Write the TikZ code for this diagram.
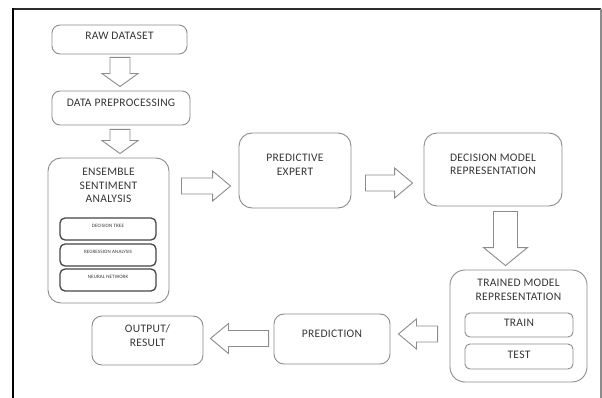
\documentclass[tikz,border=0pt]{standalone}
\usepackage{fontspec}
\setmainfont{Carlito}[LetterSpace=2.5]
\usetikzlibrary{calc}

\definecolor{boxgray}{HTML}{8C8C8C}
\definecolor{innergray}{HTML}{454545}
\definecolor{txtgray}{HTML}{363636}

% vertical block arrow: from anchor, to anchor, x centre, start gap, end gap, shaft half, head half, head length
\newcommand\vblk[8]{%
  \draw[blk] let \p1=(#1), \p2=(#2), \p3=(#3,0) in
    (\x3-#6,\y1+#4) -- (\x3+#6,\y1+#4) -- (\x3+#6,\y2+#5+#8) -- (\x3+#7,\y2+#5+#8)
    -- (\x3,\y2+#5) -- (\x3-#7,\y2+#5+#8) -- (\x3-#6,\y2+#5+#8) -- cycle;}
% horizontal block arrow: from anchor, to anchor, y centre, start gap, end gap, shaft half, head half, signed head length
\newcommand\hblk[8]{%
  \draw[blk] let \p1=(#1), \p2=(#2), \p3=(0,#3) in
    (\x1+#4,\y3+#6) -- (\x2+#5+#8,\y3+#6) -- (\x2+#5+#8,\y3+#7) -- (\x2+#5,\y3)
    -- (\x2+#5+#8,\y3-#7) -- (\x2+#5+#8,\y3-#6) -- (\x1+#4,\y3-#6) -- cycle;}

\begin{document}
\begin{tikzpicture}[x=1pt,y=-1pt,
  box/.style={draw=boxgray, line width=0.9pt, rounded corners=8pt, fill=white, inner sep=0pt},
  bigbox/.style={box, rounded corners=13pt},
  inbox/.style={draw=innergray, line width=1.3pt, rounded corners=5pt, inner sep=0pt},
  txt/.style={font=\fontsize{11.5}{13.5}\selectfont, text=txtgray, align=center, inner sep=0pt},
  tiny/.style={font=\fontsize{5}{6}\selectfont, text=txtgray, inner sep=0pt},
  blk/.style={draw=boxgray, line width=0.9pt, fill=white, line join=miter}]

\useasboundingbox (0,0) rectangle (602,398);
\fill[white] (0,0) rectangle (602,398);

% outer frame
\draw[gray!35!black, line width=1.8pt] (13,9) -- (601,9);
\draw[boxgray, line width=1.5pt] (601,9) -- (601,398);
\draw[black, line width=2pt] (13,8.1) -- (13,398);

% left column
\node[box, minimum width=135pt, minimum height=29pt] (raw) at (119.5,39.5) {};
\node[txt] (rawt) at ([yshift=3.5pt]raw.center) {RAW DATASET};

\node[box, minimum width=138pt, minimum height=34pt] (prep) at (121,108) {};
\node[txt] (prept) at ([yshift=5pt]prep.center) {DATA PREPROCESSING};

\node[bigbox, minimum width=121pt, minimum height=145pt] (ens) at (108.5,230.5) {};
\node[txt] (enst) at (108.5,185.5) {ENSEMBLE\\SENTIMENT\\ANALYSIS};
\node[inbox, minimum width=96pt, minimum height=22pt] (dt) at (108,229) {};
\node[tiny] (dtt) at ([yshift=3pt]dt.center) {DECISION TREE};
\node[inbox, minimum width=96pt, minimum height=22pt] (reg) at (108,255) {};
\node[tiny] (regt) at ([yshift=3pt]reg.center) {REGRESSION ANALYSIS};
\node[inbox, minimum width=96pt, minimum height=22pt] (nn) at (108,280) {};
\node[tiny] (nnt) at ([yshift=3pt]nn.center) {NEURAL NETWORK};

% upper row
\node[bigbox, minimum width=112pt, minimum height=75pt] (pe) at (295,170.5) {};
\node[txt] (pet) at (295,165) {PREDICTIVE\\EXPERT};

\node[bigbox, minimum width=138pt, minimum height=73pt] (dmr) at (493,169.5) {};
\node[txt] (dmrt) at (493,164.5) {DECISION MODEL\\REPRESENTATION};

% lower row
\node[bigbox, rounded corners=15pt, minimum width=137pt, minimum height=112pt] (tmr) at (518.5,326) {};
\node[txt] (tmrt) at (518.5,290) {TRAINED MODEL\\REPRESENTATION};
\node[box, rounded corners=5pt, minimum width=108pt, minimum height=24pt] (train) at (519,325) {};
\node[txt] (traint) at ([yshift=2pt]train.center) {TRAIN};
\node[box, rounded corners=5pt, minimum width=108pt, minimum height=25pt] (test) at (519,356.5) {};
\node[txt] (testt) at ([yshift=2pt]test.center) {TEST};

\node[box, rounded corners=10pt, minimum width=116pt, minimum height=50pt] (pred) at (332,339) {};
\node[txt] (predt) at ([yshift=5pt]pred.center) {PREDICTION};

\node[box, rounded corners=10pt, minimum width=111pt, minimum height=49pt] (out) at (147.5,340.5) {};
\node[txt] (outt) at (147.5,335.5) {OUTPUT/\\RESULT};

% block arrows
\vblk{raw.south}{prep.north}{120}{-3pt}{4pt}{10pt}{18pt}{13pt}
\vblk{prep.south}{ens.north}{120}{-4pt}{4pt}{10pt}{18pt}{13pt}
\hblk{ens.east}{pe.west}{186}{12pt}{-8pt}{8pt}{15pt}{-18pt}
\hblk{pe.east}{dmr.west}{183}{14pt}{-11pt}{8pt}{15pt}{-18pt}
\vblk{dmr.south}{tmr.north}{505.5}{-5pt}{4pt}{12pt}{22pt}{18pt}
\hblk{tmr.west}{pred.east}{334}{-12pt}{8pt}{8pt}{15pt}{18pt}
\hblk{pred.west}{out.east}{338.5}{-5pt}{7pt}{8pt}{15pt}{18pt}

\end{tikzpicture}
\end{document}
